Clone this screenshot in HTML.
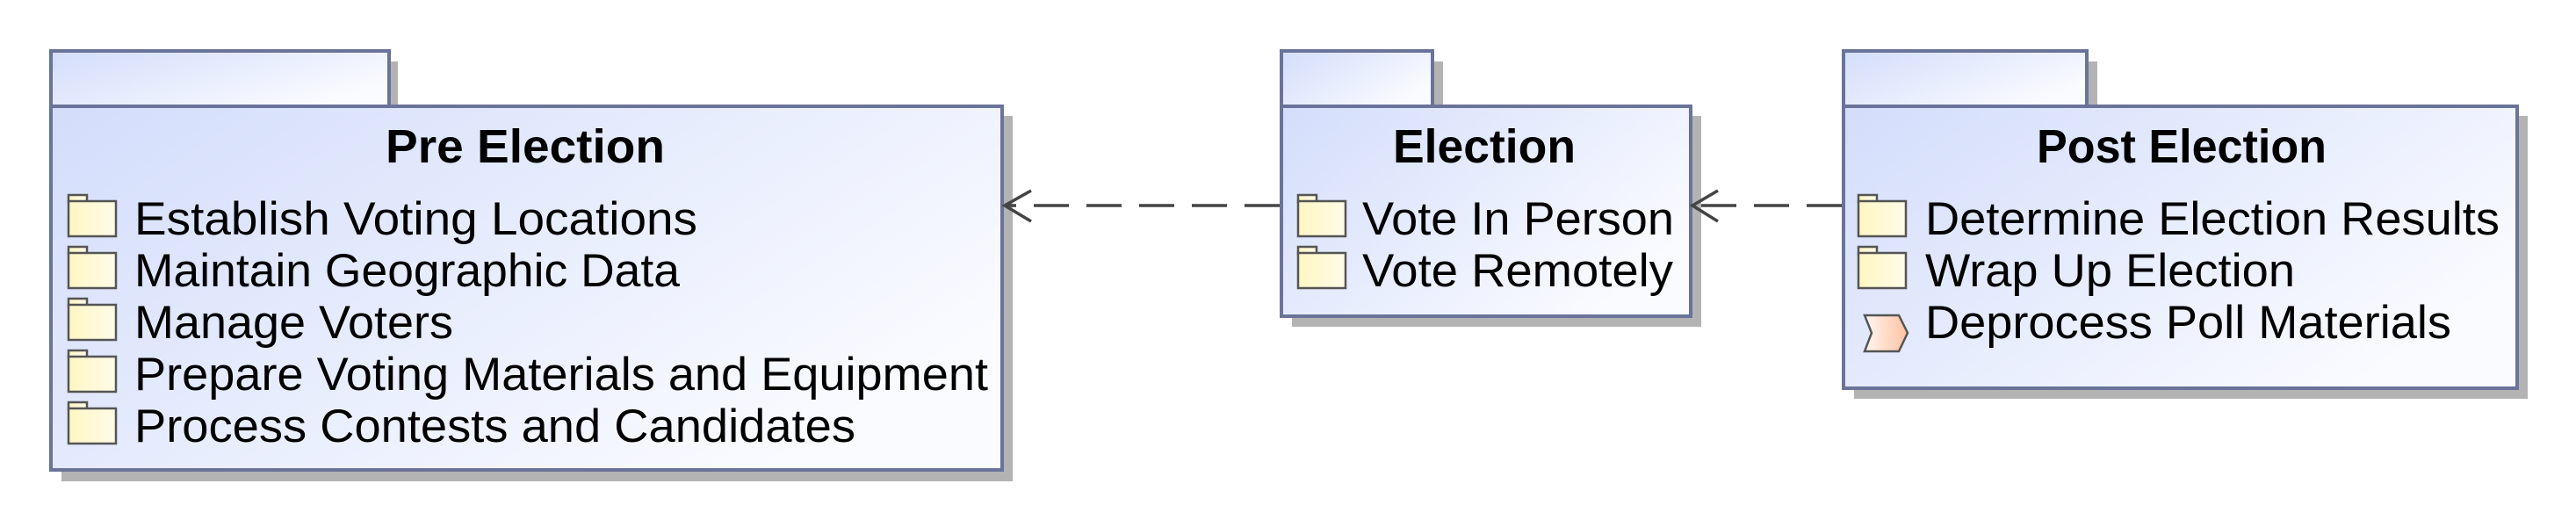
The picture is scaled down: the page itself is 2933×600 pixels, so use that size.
<!DOCTYPE html>
<html><head><meta charset="utf-8"><style>
html,body{margin:0;padding:0;background:#fff;width:2933px;height:600px;overflow:hidden}
svg{display:block}
text{font-family:"Liberation Sans",Arial,sans-serif;fill:#000}
</style></head><body>
<svg width="2933" height="600" viewBox="0 0 2933 600" xmlns="http://www.w3.org/2000/svg">
<defs>
<linearGradient id="g" x1="0" y1="0" x2="1" y2="0.6">
<stop offset="0" stop-color="#d3ddfb"/><stop offset="1" stop-color="#fafbff"/></linearGradient>
<linearGradient id="f" x1="0" y1="0" x2="1" y2="0">
<stop offset="0" stop-color="#fff6c4"/><stop offset="1" stop-color="#fffbe8"/></linearGradient>
<linearGradient id="c" x1="0" y1="0" x2="1" y2="0">
<stop offset="0" stop-color="#fff6f2"/><stop offset="1" stop-color="#ffc2a0"/></linearGradient>
<g id="fold">
<rect x="0" y="0" width="21" height="8" fill="url(#f)" stroke="#555" stroke-width="2.5"/>
<rect x="0" y="7" width="54" height="40" fill="url(#f)" stroke="#555" stroke-width="2.5"/>
</g>
</defs>
<g fill="#b3b3b3">
<rect x="70" y="70" width="383" height="62"/><rect x="70" y="132" width="1083" height="416"/>
<rect x="1471" y="70" width="172" height="62"/><rect x="1471" y="132" width="466" height="240"/>
<rect x="2111" y="70" width="277" height="62"/><rect x="2111" y="132" width="767" height="322"/>
</g>
<g stroke="#6a7399" stroke-width="4" fill="url(#g)">
<rect x="58" y="58" width="385" height="63"/><rect x="58" y="121" width="1083" height="414"/>
<rect x="1459" y="58" width="172" height="63"/><rect x="1459" y="121" width="466" height="239"/>
<rect x="2099" y="58" width="277" height="63"/><rect x="2099" y="121" width="767" height="321"/>
</g>
<g font-weight="bold" font-size="54" text-anchor="middle">
<text x="598" y="185" textLength="318" lengthAdjust="spacingAndGlyphs">Pre Election</text>
<text x="1690" y="185" textLength="208" lengthAdjust="spacingAndGlyphs">Election</text>
<text x="2484" y="185" textLength="330" lengthAdjust="spacingAndGlyphs">Post Election</text>
</g>
<g font-size="53">
<use href="#fold" x="78" y="222"/><text x="153" y="267" textLength="641" lengthAdjust="spacingAndGlyphs">Establish Voting Locations</text>
<use href="#fold" x="78" y="281"/><text x="153" y="326" textLength="621" lengthAdjust="spacingAndGlyphs">Maintain Geographic Data</text>
<use href="#fold" x="78" y="340"/><text x="153" y="385" textLength="363" lengthAdjust="spacingAndGlyphs">Manage Voters</text>
<use href="#fold" x="78" y="399"/><text x="153" y="444" textLength="972" lengthAdjust="spacingAndGlyphs">Prepare Voting Materials and Equipment</text>
<use href="#fold" x="78" y="458"/><text x="153" y="503" textLength="821" lengthAdjust="spacingAndGlyphs">Process Contests and Candidates</text>
<use href="#fold" x="1478" y="222"/><text x="1551" y="267" textLength="355" lengthAdjust="spacingAndGlyphs">Vote In Person</text>
<use href="#fold" x="1478" y="281"/><text x="1551" y="326" textLength="354" lengthAdjust="spacingAndGlyphs">Vote Remotely</text>
<use href="#fold" x="2116" y="222"/><text x="2192" y="267" textLength="654" lengthAdjust="spacingAndGlyphs">Determine Election Results</text>
<use href="#fold" x="2116" y="281"/><text x="2192" y="326" textLength="421" lengthAdjust="spacingAndGlyphs">Wrap Up Election</text>
<polygon points="2123,359 2162,359 2172,379 2162,400 2123,400 2131,379" fill="url(#c)" stroke="#555" stroke-width="2.5"/>
<text x="2192" y="385" textLength="599" lengthAdjust="spacingAndGlyphs">Deprocess Poll Materials</text>
</g>
<g stroke="#444" stroke-width="3.5" fill="none">
<line x1="1457" y1="234" x2="1144" y2="234" stroke-dasharray="40 20"/>
<polyline points="1174,217 1144,234 1174,252"/>
<line x1="2097" y1="234" x2="1928" y2="234" stroke-dasharray="40 20"/>
<polyline points="1956,217 1927,234 1956,252"/>
</g>
</svg>
</body></html>
